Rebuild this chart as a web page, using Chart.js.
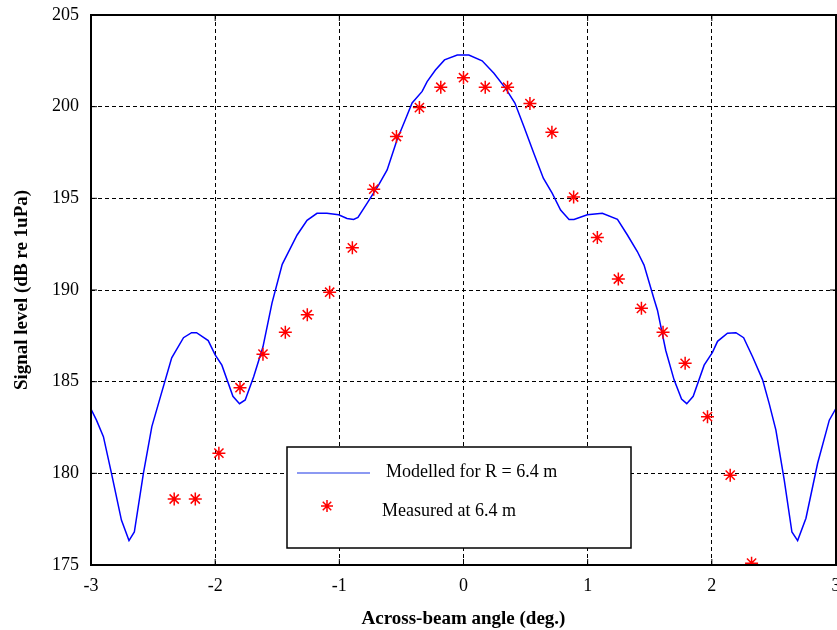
<!DOCTYPE html>
<html>
<head>
<meta charset="utf-8">
<script src="https://cdn.jsdelivr.net/npm/chart.js@4"></script>
<style>
  html, body { margin: 0; padding: 0; background: #fff; }
  #wrap { width: 837px; height: 630px; }
</style>
</head>
<body>
<div id="wrap"><canvas id="chart"></canvas></div>
<script>
// modelled curve (R = 6.4 m)
const modelAngle = [-3.0, -2.956, -2.9, -2.835, -2.755, -2.694, -2.651, -2.578, -2.51, -2.44,
  -2.35, -2.255, -2.19, -2.15, -2.056, -2.0, -1.946, -1.857, -1.804, -1.758,
  -1.69, -1.615, -1.542, -1.46, -1.395, -1.34, -1.26, -1.18, -1.1, -1.006,
  -0.938, -0.885, -0.85, -0.777, -0.683, -0.615, -0.535, -0.468, -0.414, -0.333,
  -0.293, -0.226, -0.153, -0.05, 0.043, 0.15, 0.245, 0.339, 0.414, 0.487,
  0.567, 0.643, 0.715, 0.782, 0.85, 0.89, 0.997, 1.118, 1.24, 1.32,
  1.40, 1.454, 1.535, 1.562, 1.629, 1.696, 1.756, 1.798, 1.85, 1.938,
  2.005, 2.046, 2.126, 2.194, 2.256, 2.328, 2.409, 2.462, 2.516, 2.583,
  2.645, 2.691, 2.758, 2.852, 2.946, 3.0];
const modelLevel = [183.5, 182.9, 182.0, 180.0, 177.45, 176.33, 176.8, 180.0, 182.55, 184.2,
  186.3, 187.4, 187.67, 187.67, 187.24, 186.46, 185.9, 184.2, 183.8, 184.0,
  185.27, 186.9, 189.3, 191.4, 192.27, 193.0, 193.8, 194.18, 194.18, 194.1,
  193.9, 193.85, 193.96, 194.73, 195.73, 196.55, 198.2, 199.3, 200.2, 200.83,
  201.37, 202.0, 202.55, 202.82, 202.82, 202.5, 201.82, 201.0, 200.2, 198.9,
  197.45, 196.1, 195.27, 194.36, 193.85, 193.85, 194.1, 194.18, 193.85, 193.0,
  192.1, 191.36, 189.5, 188.9, 186.7, 185.1, 184.05, 183.8, 184.2, 185.9,
  186.6, 187.2, 187.64, 187.67, 187.4, 186.36, 185.1, 183.8, 182.36, 179.64,
  176.8, 176.33, 177.55, 180.55, 182.9, 183.55];

// measured at 6.4 m
const measAngle = [-2.33, -2.16, -1.97, -1.80, -1.615, -1.435, -1.258, -1.078, -0.895, -0.723,
  -0.54, -0.355, -0.183, 0.0, 0.175, 0.355, 0.535, 0.712, 0.887, 1.078,
  1.247, 1.433, 1.607, 1.785, 1.965, 2.148, 2.32];
const measLevel = [178.6, 178.6, 181.1, 184.67, 186.5, 187.7, 188.65, 189.88, 192.3, 195.5,
  198.37, 199.95, 201.06, 201.58, 201.06, 201.06, 200.17, 198.6, 195.07, 192.86,
  190.6, 189.0, 187.7, 186.0, 183.09, 179.9, 175.1];

const xTicks = [-3, -2, -1, 0, 1, 2, 3];
const yTicks = [175, 180, 185, 190, 195, 200, 205];
const seriesNames = ['Modelled for R = 6.4 m', 'Measured at 6.4 m'];

const serif = '"Liberation Serif", "Times New Roman", serif';

// box, inward ticks and legend drawn on top of the plot
const framePlugin = {
  id: 'frame',
  afterDatasetsDraw(chart) {
    const { ctx, chartArea: a, scales } = chart;
    ctx.save();
    ctx.strokeStyle = '#000';
    ctx.lineWidth = 1;
    ctx.setLineDash([]);
    xTicks.forEach(v => {
      const px = scales.x.getPixelForValue(v);
      ctx.beginPath();
      ctx.moveTo(px, a.bottom); ctx.lineTo(px, a.bottom - 6);
      ctx.moveTo(px, a.top); ctx.lineTo(px, a.top + 6);
      ctx.stroke();
    });
    yTicks.forEach(v => {
      const py = scales.y.getPixelForValue(v);
      ctx.beginPath();
      ctx.moveTo(a.left, py); ctx.lineTo(a.left + 6, py);
      ctx.moveTo(a.right, py); ctx.lineTo(a.right - 6, py);
      ctx.stroke();
    });
    ctx.lineWidth = 2;
    ctx.strokeRect(a.left, a.top, a.right - a.left, a.bottom - a.top);

    // legend box
    const lx = a.left + 196, ly = a.top + 432, lw = 344, lh = 101;
    ctx.fillStyle = '#fff';
    ctx.fillRect(lx, ly, lw, lh);
    ctx.lineWidth = 1.5;
    ctx.strokeRect(lx, ly, lw, lh);
    ctx.strokeStyle = '#6677ee';
    ctx.lineWidth = 1.5;
    ctx.beginPath();
    ctx.moveTo(lx + 10, ly + 26); ctx.lineTo(lx + 83, ly + 26);
    ctx.stroke();
    ctx.strokeStyle = '#ff0000';
    ctx.lineWidth = 1.5;
    const sx = lx + 40, sy = ly + 59, r = 6;
    ctx.beginPath();
    ctx.moveTo(sx - r, sy); ctx.lineTo(sx + r, sy);
    ctx.moveTo(sx, sy - r); ctx.lineTo(sx, sy + r);
    const d = r * Math.SQRT1_2;
    ctx.moveTo(sx - d, sy - d); ctx.lineTo(sx + d, sy + d);
    ctx.moveTo(sx - d, sy + d); ctx.lineTo(sx + d, sy - d);
    ctx.stroke();
    ctx.fillStyle = '#000';
    ctx.font = '18px ' + serif;
    ctx.textBaseline = 'middle';
    ctx.fillText(seriesNames[0], lx + 99, ly + 25);
    ctx.fillText(seriesNames[1], lx + 95, ly + 64);
    ctx.restore();
  }
};

new Chart(document.getElementById('chart'), {
  type: 'scatter',
  data: {
    datasets: [{
      label: seriesNames[0],
      data: modelAngle.map((x, i) => ({ x, y: modelLevel[i] })),
      showLine: true,
      borderColor: '#0000ff',
      borderWidth: 1.5,
      pointRadius: 0,
      tension: 0,
      order: 2
    }, {
      label: seriesNames[1],
      data: measAngle.map((x, i) => ({ x, y: measLevel[i] })),
      showLine: false,
      pointStyle: 'star',
      pointRadius: 6.5,
      borderColor: '#ff0000',
      backgroundColor: '#ff0000',
      borderWidth: 1.5,
      order: 1
    }]
  },
  options: {
    responsive: true,
    maintainAspectRatio: false,
    animation: false,
    layout: { autoPadding: false, padding: { top: 15, right: 1, left: 0, bottom: 0 } },
    plugins: {
      legend: { display: false },
      tooltip: { enabled: false }
    },
    scales: {
      x: {
        type: 'linear',
        min: -3, max: 3,
        afterBuildTicks: s => { s.ticks = xTicks.map(v => ({ value: v })); },
        afterFit: s => { s.height = 65; s.paddingLeft = 0; s.paddingRight = 0; },
        grid: { color: '#000', lineWidth: 1, drawTicks: false },
        border: { display: false, dash: [4, 3] },
        ticks: { color: '#000', padding: 10, maxRotation: 0, font: { family: serif, size: 18 } },
        title: {
          display: true, text: 'Across-beam angle (deg.)', color: '#000',
          font: { family: serif, size: 19, weight: 'bold' }, padding: { top: 2, bottom: 0 }
        }
      },
      y: {
        type: 'linear',
        min: 175, max: 205,
        afterBuildTicks: s => { s.ticks = yTicks.map(v => ({ value: v })); },
        afterFit: s => { s.width = 91; s.paddingTop = 0; s.paddingBottom = 0; },
        grid: { color: '#000', lineWidth: 1, drawTicks: false },
        border: { display: false, dash: [4, 3] },
        ticks: { color: '#000', padding: 12, font: { family: serif, size: 18 } },
        title: {
          display: true, text: 'Signal level (dB re 1uPa)', color: '#000',
          font: { family: serif, size: 19, weight: 'bold' }, padding: { top: 11, bottom: 0 }
        }
      }
    }
  },
  plugins: [framePlugin]
});
</script>
</body>
</html>
